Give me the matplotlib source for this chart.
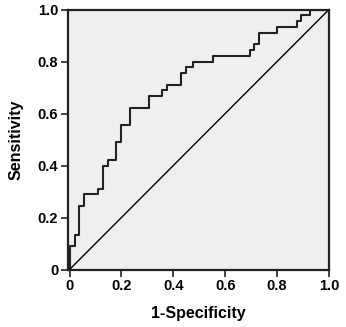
import matplotlib.pyplot as plt

plt.rcParams['font.family'] = ['Liberation Sans', 'DejaVu Sans']

# ROC step points: false positive rate and the sensitivity reached at each step
fpr = [0.0, 0.0, 0.022, 0.038, 0.057, 0.109, 0.128, 0.147, 0.179, 0.198,
       0.234, 0.307, 0.358, 0.374, 0.430, 0.447, 0.474, 0.553, 0.694,
       0.709, 0.731, 0.801, 0.876, 0.891, 0.928, 1.0]
tpr = [0.0, 0.089, 0.133, 0.244, 0.289, 0.311, 0.400, 0.422, 0.489, 0.556,
       0.622, 0.667, 0.689, 0.711, 0.756, 0.778, 0.800, 0.822, 0.844,
       0.867, 0.911, 0.933, 0.956, 0.978, 1.0, 1.0]

ticks = [0, 0.2, 0.4, 0.6, 0.8, 1.0]
tick_labels = ['0', '0.2', '0.4', '0.6', '0.8', '1.0']

fig = plt.figure(figsize=(3.46, 3.27), dpi=100)
ax = fig.add_axes([68 / 346, 57.5 / 327, 261 / 346, 260 / 327])
ax.set_facecolor('#efefef')

ax.step(fpr, tpr, where='post', color='#222222', lw=1.5)
ax.plot([0, 1], [0, 1], color='black', lw=1.0)

ax.set_xlim(-0.006, 1.0)
ax.set_ylim(0, 1.0)
ax.set_xticks(ticks)
ax.set_xticklabels(tick_labels)
ax.set_yticks(ticks)
ax.set_yticklabels(tick_labels)
ax.tick_params(length=5, width=1.2, labelsize=10.5, pad=2, color='#222222')
for lab in ax.get_xticklabels() + ax.get_yticklabels():
    lab.set_fontweight('bold')
for s in ax.spines.values():
    s.set_linewidth(1.6)
    s.set_color('#222222')

ax.set_xlabel('1-Specificity', fontsize=11.5, fontweight='bold', labelpad=9)
ax.set_ylabel('Sensitivity', fontsize=11.5, fontweight='bold', labelpad=10)

fig.savefig('out.png', dpi=100)
